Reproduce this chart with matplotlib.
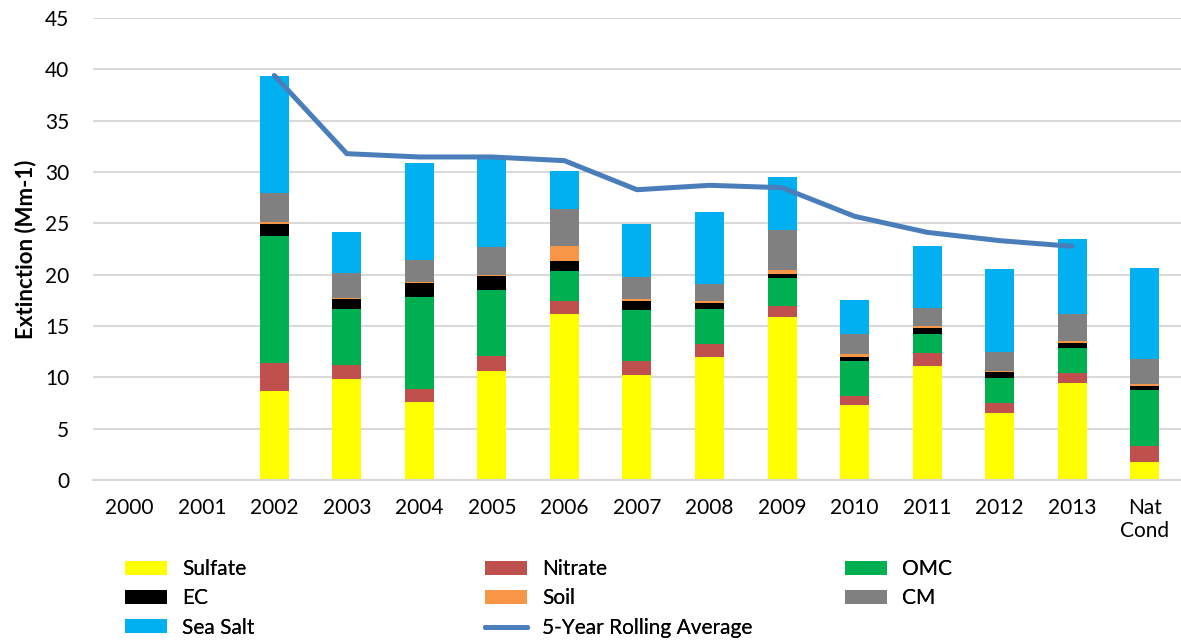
import numpy as np
import matplotlib.pyplot as plt

plt.rcParams['font.family'] = ['Lato', 'DejaVu Sans']

# Categories and stacked component values (Mm-1)
years = ["2000", "2001", "2002", "2003", "2004", "2005", "2006", "2007",
         "2008", "2009", "2010", "2011", "2012", "2013", "Nat\nCond"]
sulfate = [0, 0, 8.68, 9.81, 7.60, 10.66, 16.12, 10.27, 11.99, 15.86, 7.34, 11.10, 6.53, 9.42, 1.72]
nitrate = [0, 0, 2.76, 1.34, 1.30, 1.40, 1.27, 1.30, 1.30, 1.10, 0.84, 1.27, 0.97, 1.03, 1.59]
omc = [0, 0, 12.35, 5.46, 8.88, 6.46, 2.92, 4.94, 3.32, 2.67, 3.38, 1.88, 2.40, 2.37, 5.49]
ec = [0, 0, 1.10, 1.00, 1.36, 1.34, 0.98, 0.91, 0.61, 0.45, 0.45, 0.52, 0.62, 0.56, 0.32]
soil = [0, 0, 0.20, 0.15, 0.16, 0.13, 1.52, 0.16, 0.17, 0.33, 0.23, 0.20, 0.13, 0.16, 0.20]
cm = [0, 0, 2.86, 2.40, 2.15, 2.73, 3.58, 2.21, 1.72, 3.96, 1.95, 1.78, 1.82, 2.63, 2.47]
sea_salt = [0, 0, 11.41, 3.96, 9.42, 8.60, 3.67, 5.17, 6.95, 5.14, 3.31, 6.01, 8.05, 7.30, 8.86]
rolling_avg = [np.nan, np.nan, 39.4, 31.78, 31.46, 31.46, 31.1, 28.27, 28.7, 28.47,
               25.68, 24.12, 23.31, 22.76, np.nan]

series = [("Sulfate", sulfate, "#FFFF00"),
          ("Nitrate", nitrate, "#C0504D"),
          ("OMC", omc, "#00B050"),
          ("EC", ec, "#000000"),
          ("Soil", soil, "#F79646"),
          ("CM", cm, "#808080"),
          ("Sea Salt", sea_salt, "#00B0F0")]

fig = plt.figure(figsize=(11.81, 6.41), dpi=100)
ax = fig.add_axes([0.0787, 0.2512, 0.9213, 0.7208])

x = np.arange(len(years))
bottom = np.zeros(len(years))
handles = {}
for name, vals, color in series:
    bars = ax.bar(x, vals, 0.4, bottom=bottom, color=color, label=name, zorder=2)
    handles[name] = bars
    bottom += np.array(vals)

line, = ax.plot(x, rolling_avg, color="#4A7EBB", lw=3.6, solid_capstyle="round",
                solid_joinstyle="round", zorder=3, label="5-Year Rolling Average")
handles["5-Year Rolling Average"] = line

ax.set_xlim(-0.5, len(years) - 0.5)
ax.set_ylim(0, 45)
ax.set_yticks(range(0, 46, 5))
ax.set_xticks(x)
ax.set_xticklabels(years)
ax.yaxis.grid(True, color="#D9D9D9", lw=1.5, zorder=0)
ax.set_axisbelow(True)
for s in ["top", "right", "left"]:
    ax.spines[s].set_visible(False)
ax.spines["bottom"].set_color("#D9D9D9")
ax.spines["bottom"].set_linewidth(1.5)
ax.tick_params(axis="both", length=0, labelsize=15)
ax.tick_params(axis="x", pad=13)
ax.tick_params(axis="y", pad=17)
ax.set_ylabel("Extinction (Mm-1)", fontsize=16, fontweight="bold", labelpad=6)

# one legend per column so the columns sit where the reference has them
columns = [(["Sulfate", "EC", "Sea Salt"], 125),
           (["Nitrate", "Soil", "5-Year Rolling Average"], 485),
           (["OMC", "CM"], 845)]
for names, px in columns:
    leg = fig.legend([handles[k] for k in names], names,
                     loc="upper left", bbox_to_anchor=(px / 1181, 1 - 559 / 641),
                     frameon=False, fontsize=15, handlelength=2.0, handleheight=0.65,
                     handletextpad=0.75, labelspacing=0.45, borderpad=0,
                     borderaxespad=0)
    fig.add_artist(leg)

fig.savefig("out.png", dpi=100)
